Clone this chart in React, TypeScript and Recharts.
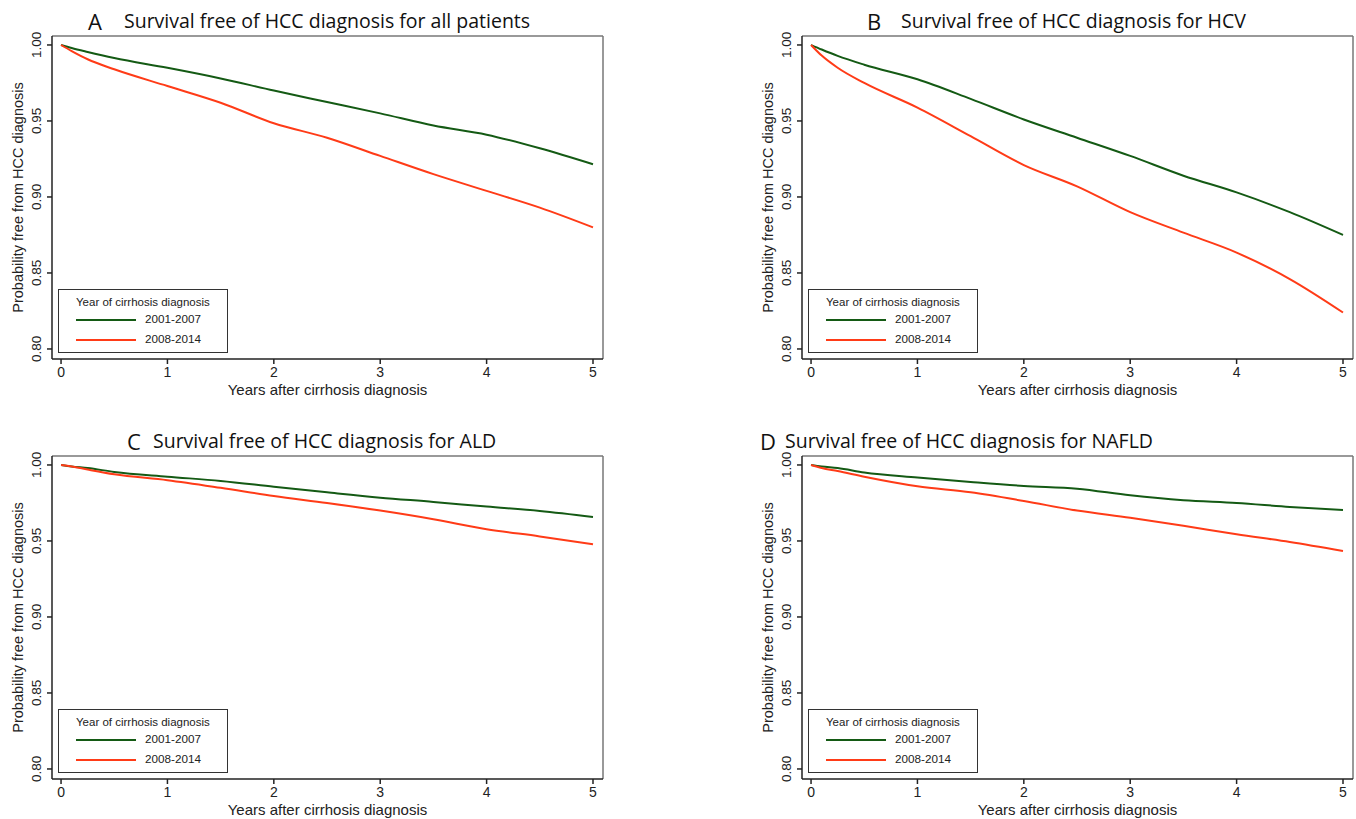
import React from 'react';
import { LineChart, Line, XAxis, YAxis, ReferenceLine, Label } from 'recharts';

// Years after diagnosis (shared x values for every panel)
const years = [0, 0.1, 0.25, 0.5, 1, 1.5, 2, 2.5, 3, 3.5, 4, 4.5, 5];

// A: all patients
const allGreen = [1, 0.998, 0.9954, 0.9914, 0.985, 0.978, 0.97, 0.9625, 0.955, 0.947, 0.941, 0.932, 0.9215];
const allRed = [1, 0.996, 0.9906, 0.984, 0.973, 0.962, 0.9485, 0.939, 0.927, 0.915, 0.904, 0.893, 0.88];
// B: HCV
const hcvGreen = [1, 0.997, 0.9928, 0.987, 0.9774, 0.9645, 0.951, 0.939, 0.927, 0.914, 0.903, 0.89, 0.875];
const hcvRed = [1, 0.993, 0.985, 0.975, 0.9588, 0.94, 0.921, 0.907, 0.89, 0.8765, 0.8634, 0.846, 0.824];
// C: ALD
const aldGreen = [1, 0.999, 0.998, 0.9954, 0.9923, 0.9895, 0.9857, 0.982, 0.9785, 0.9757, 0.9726, 0.9697, 0.9658];
const aldRed = [1, 0.999, 0.997, 0.9939, 0.99, 0.985, 0.9796, 0.975, 0.97, 0.9643, 0.9577, 0.953, 0.9478];
// D: NAFLD
const nafldGreen = [1, 0.999, 0.998, 0.995, 0.9917, 0.9888, 0.9862, 0.9844, 0.98, 0.9768, 0.975, 0.9724, 0.9704];
const nafldRed = [1, 0.998, 0.996, 0.9923, 0.986, 0.982, 0.9763, 0.97, 0.9653, 0.96, 0.9544, 0.9493, 0.9434];

const xTicks = [0, 1, 2, 3, 4, 5];
const yTicks = [0.8, 0.85, 0.9, 0.95, 1.0];
const seriesNames = ['2001-2007', '2008-2014'];

const GREEN = '#145a14';
const RED = '#ff3b17';
const X_MIN = -0.085;
const X_MAX = 5.094;
const Y_MIN = 0.7934;
const Y_MAX = 1.0059;
const AXIS_FONT = 'Liberation Sans, Arial, sans-serif';

const YTick = (props: any) => {
  const { y, payload } = props;
  const cx = 37;
  return (
    <text
      x={cx}
      y={y}
      transform={`rotate(-90 ${cx} ${y})`}
      textAnchor="middle"
      dominantBaseline="central"
      fontSize={13.5}
      fontFamily={AXIS_FONT}
      fill="#222"
    >
      {Number(payload.value).toFixed(2)}
    </text>
  );
};

interface PanelProps {
  left: number;
  top: number;
  letter: string;
  title: string;
  letterX: number;
  textX: number;
  green: number[];
  red: number[];
}

function Panel({ left, top, letter, title, letterX, textX, green, red }: PanelProps) {
  const data = years.map((t, i) => ({ t, g: green[i], r: red[i] }));
  return (
    <div style={{ position: 'absolute', left, top, width: 610, height: 400 }}>
      <div
        style={{
          position: 'absolute', left: letterX, top: 6, fontSize: 22, lineHeight: '30px',
          fontFamily: 'Open Sans, sans-serif', color: '#111', whiteSpace: 'nowrap',
        }}
      >
        {letter}
      </div>
      <div
        style={{
          position: 'absolute', left: textX, top: 7, fontSize: 19.5, lineHeight: '28px',
          fontFamily: 'Open Sans, sans-serif', color: '#111', whiteSpace: 'nowrap',
        }}
      >
        {title}
      </div>
      <LineChart width={610} height={400} data={data} margin={{ top: 36, right: 7, bottom: 0, left: 0 }}>
        <XAxis
          dataKey="t"
          type="number"
          domain={[X_MIN, X_MAX]}
          ticks={xTicks}
          allowDataOverflow
          height={41}
          tickSize={5}
          tickMargin={3}
          stroke="#222"
          strokeWidth={1.5}
          tick={{ fontSize: 14, fontFamily: AXIS_FONT, fill: '#222' }}
        >
          <Label
            value="Years after cirrhosis diagnosis"
            position="insideBottom"
            offset={5}
            style={{ fontSize: 15, fontFamily: AXIS_FONT, fill: '#222' }}
          />
        </XAxis>
        <YAxis
          type="number"
          domain={[Y_MIN, Y_MAX]}
          ticks={yTicks}
          allowDataOverflow
          width={52}
          tickSize={5}
          stroke="#222"
          strokeWidth={1.5}
          tick={<YTick />}
        >
          <Label
            value="Probability free from HCC diagnosis"
            angle={-90}
            position="insideLeft"
            offset={18}
            style={{ fontSize: 14.5, fontFamily: AXIS_FONT, fill: '#222', textAnchor: 'middle' }}
          />
        </YAxis>
        <ReferenceLine y={Y_MAX} stroke="#777" strokeWidth={1.5} />
        <ReferenceLine x={X_MAX} stroke="#777" strokeWidth={1.5} />
        <Line type="monotone" dataKey="g" name={seriesNames[0]} stroke={GREEN} strokeWidth={2} dot={false} isAnimationActive={false} />
        <Line type="monotone" dataKey="r" name={seriesNames[1]} stroke={RED} strokeWidth={2} dot={false} isAnimationActive={false} />
      </LineChart>
      {/* legend box, bottom-left inside plot */}
      <div
        style={{
          position: 'absolute', left: 58, top: 289, width: 170, height: 64, boxSizing: 'border-box',
          border: '1px solid #333', background: '#fff', fontFamily: AXIS_FONT, color: '#222',
        }}
      >
        <div style={{ position: 'absolute', left: 17, top: 6, fontSize: 11.5, whiteSpace: 'nowrap' }}>
          Year of cirrhosis diagnosis
        </div>
        {[GREEN, RED].map((c, i) => (
          <React.Fragment key={c}>
            <div style={{ position: 'absolute', left: 17, top: 30 + i * 20 - 1, width: 60, height: 2, background: c }} />
            <div style={{ position: 'absolute', left: 86, top: 22 + i * 20, fontSize: 11.7, lineHeight: '14px' }}>
              {seriesNames[i]}
            </div>
          </React.Fragment>
        ))}
      </div>
    </div>
  );
}

export default function App() {
  return (
    <div style={{ position: 'absolute', left: 0, top: 0, width: 1356, height: 819, background: '#fff' }}>
      <Panel left={0} top={0} letter="A" title="Survival free of HCC diagnosis for all patients"
        letterX={88} textX={124} green={allGreen} red={allRed} />
      <Panel left={750} top={0} letter="B" title="Survival free of HCC diagnosis for HCV"
        letterX={117} textX={151} green={hcvGreen} red={hcvRed} />
      <Panel left={0} top={420} letter="C" title="Survival free of HCC diagnosis for ALD"
        letterX={127} textX={153} green={aldGreen} red={aldRed} />
      <Panel left={750} top={420} letter="D" title="Survival free of HCC diagnosis for NAFLD"
        letterX={10} textX={35} green={nafldGreen} red={nafldRed} />
    </div>
  );
}
